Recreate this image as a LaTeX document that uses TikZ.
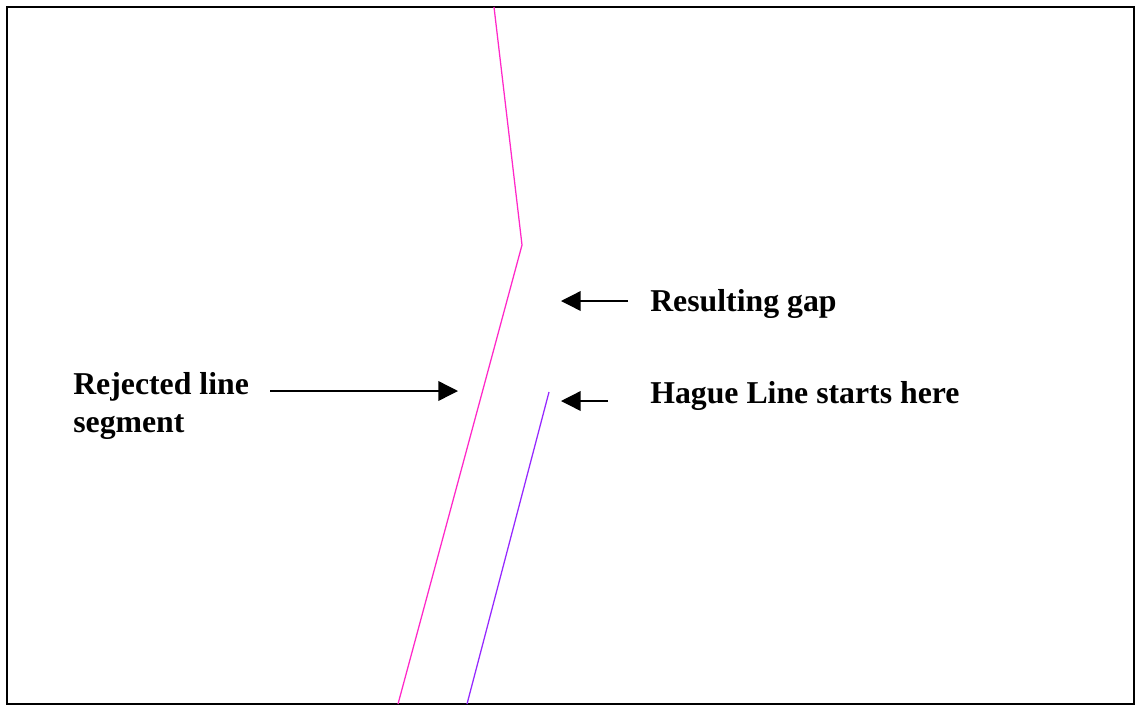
\documentclass[tikz,border=0pt]{standalone}
\usepackage{fontspec}
\setmainfont{Liberation Serif}
\usepackage{tikz}
\usetikzlibrary{arrows.meta, positioning}

\tikzset{
    note/.style={font=\fontsize{22.6}{26.5}\selectfont\bfseries, inner sep=0pt, align=left, anchor=west},
    pointer/.style={-{Triangle[length=14pt, width=14pt]}, line width=1pt},
}

\begin{document}
\begin{tikzpicture}[x=0.025cm, y=-0.025cm]
    \useasboundingbox (0,0) rectangle (1136,705);
    % Khung
    \draw[line width=1.8pt] (7,7) rectangle (1134,704);

    % Các đường ranh giới
    \draw[color={rgb,255:red,255;green,40;blue,200}, line width=0.9pt]
        (494,7) -- (522,245) -- (398,704);
    \draw[color={rgb,255:red,150;green,40;blue,255}, line width=0.9pt]
        (549,392) -- (467,704);

    % Chú thích
    \node[note] (gap) at (650,304) {Resulting gap};
    \node[note] (hague) at (650,396) {Hague Line starts here};
    \node[note] (rejected) at (73,406) {Rejected line\\segment};

    % Mũi tên
    \coordinate (gapTail) at (628,301);
    \coordinate (gapTip) at (561,301);
    \coordinate (hagueTail) at (608,401);
    \coordinate (hagueTip) at (561,401);
    \coordinate (rejTail) at (270,391);
    \coordinate (rejTip) at (458,391);
    \draw[pointer] (gapTail) -- (gapTip);
    \draw[pointer] (hagueTail) -- (hagueTip);
    \draw[pointer] (rejTail) -- (rejTip);
\end{tikzpicture}
\end{document}
